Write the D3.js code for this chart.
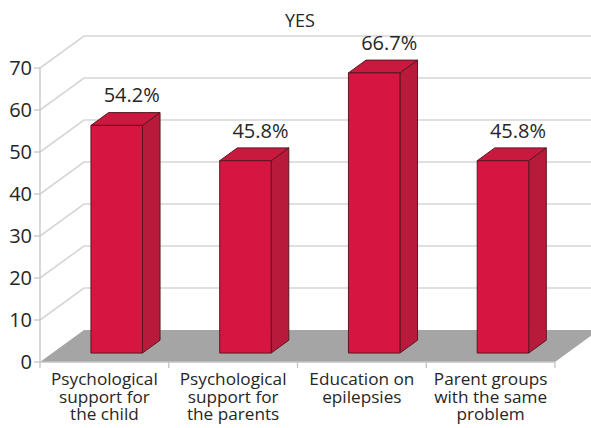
<!DOCTYPE html>
<html>
<head>
<meta charset="utf-8">
<script src="https://cdn.jsdelivr.net/npm/d3@7/dist/d3.min.js"></script>
<style>
html,body{margin:0;padding:0;background:#fff;}
svg{display:block;}
text{font-family:"Open Sans",sans-serif;fill:#262626;}
</style>
</head>
<body>
<svg id="chart" width="591" height="428"></svg>
<script>
const title = "YES";
const categories = [
  ["Psychological", "support for", "the child"],
  ["Psychological", "support for", "the parents"],
  ["Education on", "epilepsies"],
  ["Parent groups", "with the same", "problem"]
];
const values = [54.2, 45.8, 66.7, 45.8];
const valueLabels = ["54.2%", "45.8%", "66.7%", "45.8%"];
const yTicks = [0, 10, 20, 30, 40, 50, 60, 70];

(function () {
const svg = d3.select("#chart");
const W = 591;
const pL = 40, pR = 555, pB = 362, pT = 68;
const DX = 44, DY = -32;           // full floor depth
const fFront = 0.28, fDepth = 0.40; // bar front offset & depth as fraction

const keys = categories.map((c, i) => i);
const x = d3.scaleBand().domain(keys).range([pL, pR]).paddingInner(0).paddingOuter(0);
const y = d3.scaleLinear().domain([0, 70]).range([pB, pT]);

// side wall + back wall gridlines
const grid = svg.append("g");
yTicks.filter(v => v > 0).forEach(v => {
  const yy = y(v);
  grid.append("path")
    .attr("d", `M${pL},${yy} L${pL + DX},${yy + DY} L${W + 5},${yy + DY}`)
    .attr("fill", "none").attr("stroke", "#d6d6d6").attr("stroke-width", 1.6);
});

// floor
svg.append("path")
  .attr("d", `M${pL},${pB} L${pR},${pB} L${pR + DX},${pB + DY} L${pL + DX},${pB + DY} Z`)
  .attr("fill", "#a5a5a5");

// y axis line
svg.append("line").attr("x1", pL).attr("x2", pL).attr("y1", pT).attr("y2", pB)
  .attr("stroke", "#c4c4c4").attr("stroke-width", 1.3);
const yAxis = svg.append("g");
yTicks.forEach(v => {
  yAxis.append("line").attr("x1", pL - 6).attr("x2", pL).attr("y1", y(v)).attr("y2", y(v))
    .attr("stroke", "#c4c4c4").attr("stroke-width", 1.3);
  yAxis.append("text").attr("x", pL - 8).attr("y", y(v)).attr("dy", "0.36em")
    .attr("text-anchor", "end").attr("font-size", 20).text(v);
});

// x axis line & ticks
svg.append("line").attr("x1", pL).attr("x2", pR).attr("y1", pB).attr("y2", pB)
  .attr("stroke", "#c4c4c4").attr("stroke-width", 1.3);
const bounds = keys.map(k => x(k)).concat([x(keys[keys.length - 1]) + x.bandwidth()]);
bounds.forEach(b => {
  svg.append("line").attr("x1", b).attr("x2", b).attr("y1", pB).attr("y2", pB + 6)
    .attr("stroke", "#c4c4c4").attr("stroke-width", 1.3);
});

// bars
const barW = x.bandwidth() * 0.40;
const ox = DX * fFront, oy = DY * fFront;
const bx = DX * fDepth, by = DY * fDepth;
const stroke = "#5a1820";
values.forEach((v, i) => {
  const cx = x(i) + x.bandwidth() / 2 + ox;
  const x0 = cx - barW / 2, x1 = cx + barW / 2;
  const yb = y(0) + oy, yt = y(v) + oy;
  const g = svg.append("g").attr("stroke", stroke).attr("stroke-width", 1).attr("stroke-linejoin", "round");
  g.append("path").attr("d", `M${x1},${yb} L${x1 + bx},${yb + by} L${x1 + bx},${yt + by} L${x1},${yt} Z`)
    .attr("fill", "#b71a3a");
  g.append("path").attr("d", `M${x0},${yt} L${x1},${yt} L${x1 + bx},${yt + by} L${x0 + bx},${yt + by} Z`)
    .attr("fill", "#c9193f");
  g.append("rect").attr("x", x0).attr("y", yt).attr("width", barW).attr("height", yb - yt)
    .attr("fill", "#d61541");
  svg.append("text").attr("x", cx + 15).attr("y", yt - 23).attr("text-anchor", "middle")
    .attr("font-size", 20).text(valueLabels[i]);
});

// category labels
categories.forEach((lines, i) => {
  lines.forEach((ln, j) => {
    svg.append("text").attr("text-anchor", "middle").attr("font-size", 17.2)
      .attr("x", x(i) + x.bandwidth() / 2).attr("y", 385 + j * 17.5).text(ln);
  });
});

// title
svg.append("text").attr("x", 300).attr("y", 27).attr("text-anchor", "middle")
  .attr("font-size", 18).text(title);
})();
</script>
</body>
</html>
